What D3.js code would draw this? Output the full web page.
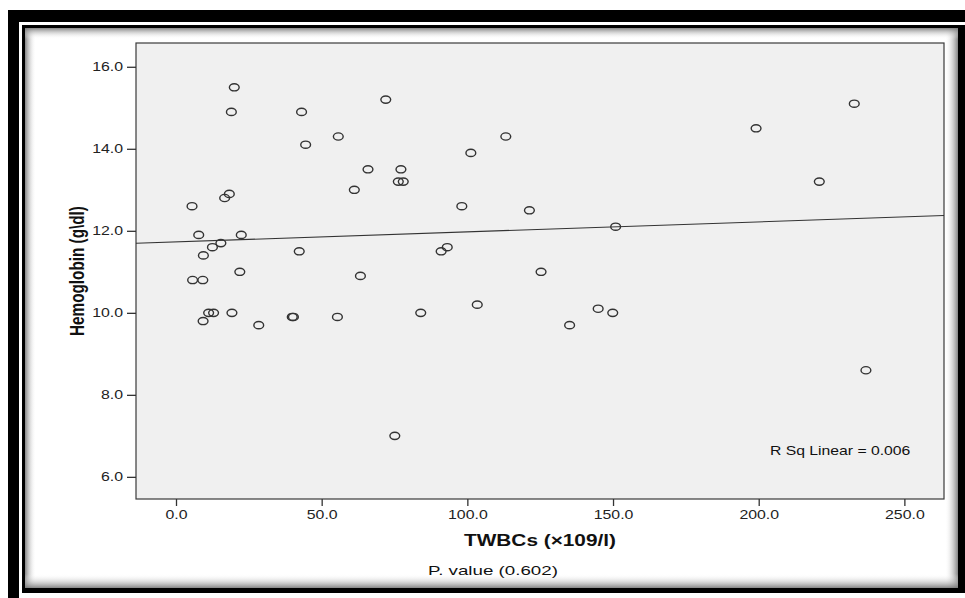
<!DOCTYPE html>
<html>
<head>
<meta charset="utf-8">
<title>Hemoglobin vs TWBCs</title>
<script src="https://d3js.org/d3.v7.min.js"></script>
<style>
  body { margin: 0; background: #fff; }
  svg { display: block; font-family: "Liberation Sans", Arial, sans-serif; }
</style>
</head>
<body>
<svg width="965" height="598"></svg>
<script>
// data
var twbc = [20.0, 19.0, 43.1, 44.5, 18.3, 16.7, 5.5, 7.8, 22.4, 15.4, 12.5, 9.4, 42.3, 21.9, 5.7, 9.2, 11.2, 12.9, 19.2, 9.3, 28.4, 39.9, 40.3,
            72.0, 55.7, 113.2, 101.2, 65.9, 77.2, 76.3, 78.0, 61.2, 98.1, 121.3, 150.9, 93.1, 91.0, 63.3, 125.3, 103.4, 84.0, 55.4, 144.9, 149.9, 135.1, 75.1,
            232.8, 199.1, 220.8, 236.8];
var hb = [15.5, 14.9, 14.9, 14.1, 12.9, 12.8, 12.6, 11.9, 11.9, 11.7, 11.6, 11.4, 11.5, 11.0, 10.8, 10.8, 10.0, 10.0, 10.0, 9.8, 9.7, 9.9, 9.9,
          15.2, 14.3, 14.3, 13.9, 13.5, 13.5, 13.2, 13.2, 13.0, 12.6, 12.5, 12.1, 11.6, 11.5, 10.9, 11.0, 10.2, 10.0, 9.9, 10.1, 10.0, 9.7, 7.0,
          15.1, 14.5, 13.2, 8.6];
var xTicks = [0, 50, 100, 150, 200, 250];
var yTicks = [6, 8, 10, 12, 14, 16];
var fitIntercept = 11.73, fitSlope = 0.00244;
var rSqLabel = "R Sq Linear = 0.006";
var xTitle = "TWBCs (\u00d7109/l)";
var yTitle = "Hemoglobin (g\\dl)";
var pLabel = "P. value (0.602)";

var SX = 1.27; // picture is stretched sideways

var svg = d3.select("svg");
var defs = svg.append("defs");

// frame: thick black border, white gap, thin black border
svg.append("rect").attr("x", 8).attr("y", 10).attr("width", 957).attr("height", 588).attr("fill", "#000");
svg.append("rect").attr("x", 19).attr("y", 22).attr("width", 946).attr("height", 576).attr("fill", "#fff");
svg.append("rect").attr("x", 22).attr("y", 25).attr("width", 943).attr("height", 568).attr("fill", "#000");
svg.append("rect").attr("x", 25).attr("y", 28).attr("width", 933).attr("height", 560).attr("fill", "#fff");

// inner shadow strips
function grad(id, x1, y1, x2, y2) {
    var g = defs.append("linearGradient").attr("id", id)
        .attr("x1", x1).attr("y1", y1).attr("x2", x2).attr("y2", y2);
    g.append("stop").attr("offset", "0").attr("stop-color", "#777").attr("stop-opacity", 0.9);
    g.append("stop").attr("offset", "1").attr("stop-color", "#fff").attr("stop-opacity", 0);
}
grad("shL", 0, 0, 1, 0);
grad("shR", 1, 0, 0, 0);
grad("shT", 0, 0, 0, 1);
grad("shB", 0, 1, 0, 0);
svg.append("rect").attr("x", 25).attr("y", 28).attr("width", 11).attr("height", 560).attr("fill", "url(#shL)");
svg.append("rect").attr("x", 945).attr("y", 28).attr("width", 13).attr("height", 560).attr("fill", "url(#shR)");
svg.append("rect").attr("x", 25).attr("y", 28).attr("width", 933).attr("height", 11).attr("fill", "url(#shT)");
svg.append("rect").attr("x", 25).attr("y", 574).attr("width", 933).attr("height", 14).attr("fill", "url(#shB)");

// plot area
var pL = 136, pT = 43, pR = 944, pB = 499;
var x = d3.scaleLinear().domain([-13.73, 263.6]).range([pL, pR]);
var y = d3.scaleLinear().domain([5.46, 16.58]).range([pB, pT]);

svg.append("rect").attr("x", pL).attr("y", pT)
    .attr("width", pR - pL).attr("height", pB - pT)
    .attr("fill", "#f0f0f0").attr("stroke", "#3a3a3a").attr("stroke-width", 1.2);

defs.append("clipPath").attr("id", "plotClip").append("rect")
    .attr("x", pL).attr("y", pT).attr("width", pR - pL).attr("height", pB - pT);

// axes
var yAxis = svg.append("g").attr("transform", "translate(" + pL + ",0)")
    .call(d3.axisLeft(y).tickValues(yTicks).tickFormat(d3.format(".1f")).tickSize(9).tickPadding(3));
var xAxis = svg.append("g").attr("transform", "translate(0," + pB + ")")
    .call(d3.axisBottom(x).tickValues(xTicks).tickFormat(d3.format(".1f")).tickSize(7).tickPadding(4));
[yAxis, xAxis].forEach(function(a) {
    a.select(".domain").remove();
    a.selectAll(".tick line").attr("stroke", "#333").attr("stroke-width", 1.3);
    a.selectAll(".tick text").attr("fill", "#222").attr("font-size", 12.5)
        .attr("font-family", "'Liberation Sans', Arial, sans-serif");
});
yAxis.selectAll(".tick text").attr("x", -13 / SX).attr("transform", "scale(" + SX + ",1)");
xAxis.selectAll(".tick text").attr("transform", "scale(" + SX + ",1)");

// fit line
var xd = x.domain();
svg.append("line").attr("clip-path", "url(#plotClip)")
    .attr("x1", x(xd[0])).attr("y1", y(fitIntercept + fitSlope * xd[0]))
    .attr("x2", x(xd[1])).attr("y2", y(fitIntercept + fitSlope * xd[1]))
    .attr("stroke", "#333").attr("stroke-width", 1.1);

// points
var pts = twbc.map(function(v, i) { return {x: v, y: hb[i]}; });
svg.append("g").selectAll("ellipse").data(pts).join("ellipse")
    .attr("cx", function(d) { return x(d.x); })
    .attr("cy", function(d) { return y(d.y); })
    .attr("rx", 4.9).attr("ry", 3.6)
    .attr("fill", "none").attr("stroke", "#333").attr("stroke-width", 1.4);

// texts
function label(txt, tx, ty, size, weight, anchor, sx) {
    svg.append("text")
        .attr("transform", "translate(" + tx + "," + ty + ") scale(" + sx + ",1)")
        .attr("text-anchor", anchor).attr("font-size", size).attr("font-weight", weight)
        .attr("fill", "#111").text(txt);
}
label(rSqLabel, 770, 455, 12.4, "normal", "start", SX);
label(xTitle, 540, 546, 16, "bold", "middle", 1.3);
label(pLabel, 493, 575, 13.2, "normal", "middle", 1.42);

svg.append("text")
    .attr("transform", "translate(84," + ((pT + pB) / 2) + ") rotate(-90) scale(1," + SX + ")")
    .attr("text-anchor", "middle").attr("font-size", 15.3).attr("font-weight", "bold")
    .attr("fill", "#111").text(yTitle);
</script>
</body>
</html>
